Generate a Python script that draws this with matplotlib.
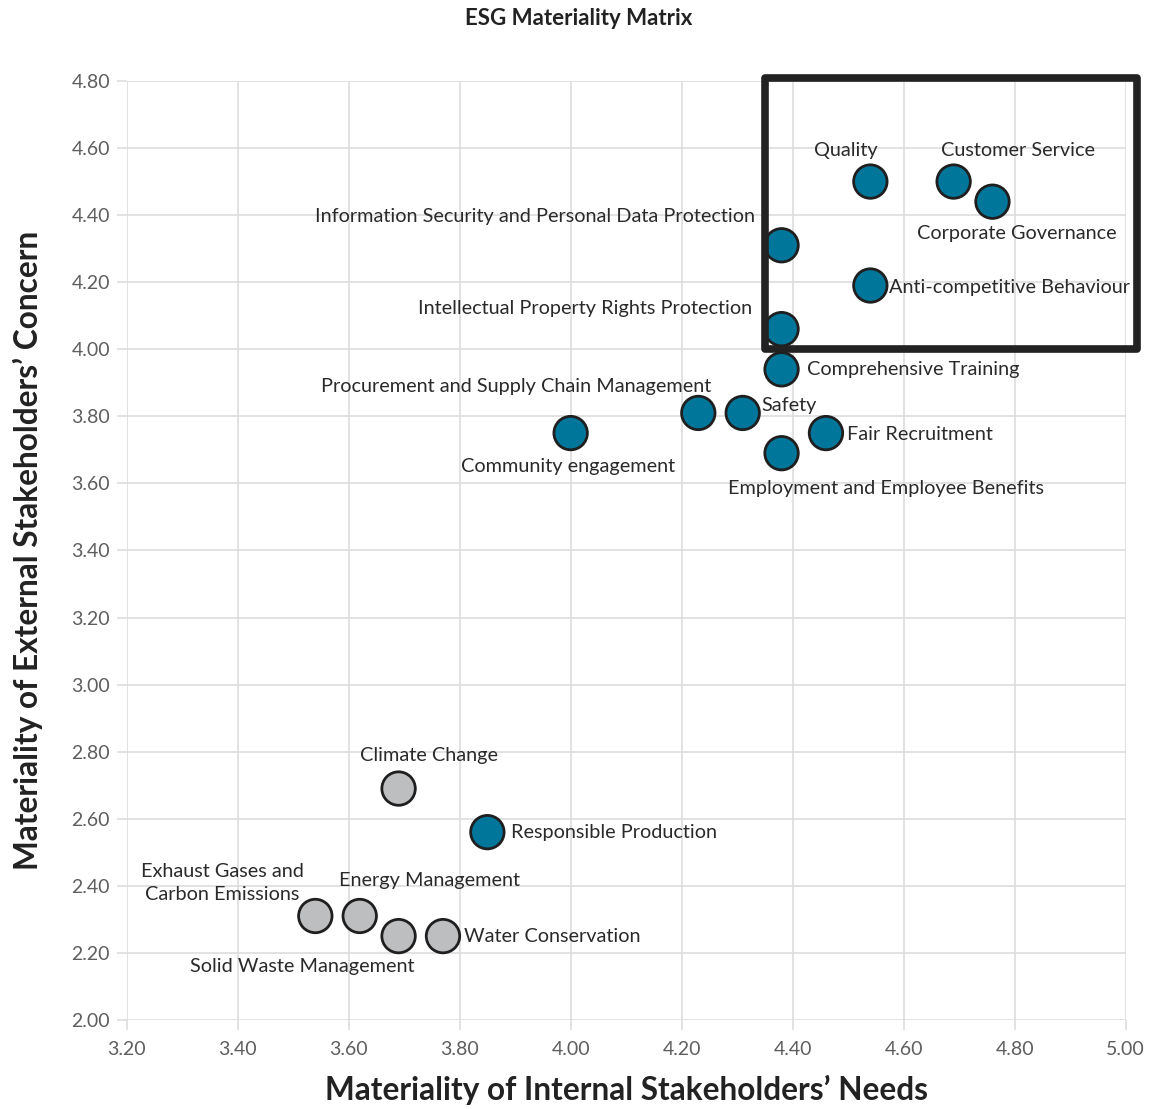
import matplotlib.pyplot as plt
from matplotlib.patches import Rectangle

plt.rcParams['font.family'] = ['Lato', 'DejaVu Sans']

# ESG topics
topics = ['Quality', 'Customer Service', 'Corporate Governance',
          'Information Security and Personal Data Protection',
          'Anti-competitive Behaviour', 'Intellectual Property Rights Protection',
          'Comprehensive Training', 'Procurement and Supply Chain Management',
          'Safety', 'Community engagement', 'Fair Recruitment',
          'Employment and Employee Benefits', 'Climate Change',
          'Responsible Production', 'Exhaust Gases and\nCarbon Emissions',
          'Energy Management', 'Solid Waste Management', 'Water Conservation']
internal = [4.54, 4.69, 4.76, 4.38, 4.54, 4.38, 4.38, 4.23, 4.31, 4.00, 4.46,
            4.38, 3.69, 3.85, 3.54, 3.62, 3.69, 3.77]
external = [4.50, 4.50, 4.44, 4.31, 4.19, 4.06, 3.94, 3.81, 3.81, 3.75, 3.75,
            3.69, 2.69, 2.56, 2.31, 2.31, 2.25, 2.25]
group = ['g', 'g', 'g', 'g', 'g', 'g', 'g', 'g', 'g', 'g', 'g',
         'g', 'e', 'g', 'e', 'e', 'e', 'e']

xticks = [3.2, 3.4, 3.6, 3.8, 4.0, 4.2, 4.4, 4.6, 4.8, 5.0]
yticks = [2.0, 2.2, 2.4, 2.6, 2.8, 3.0, 3.2, 3.4, 3.6, 3.8, 4.0, 4.2, 4.4, 4.6, 4.8]

# label placement: offset in pixels, horizontal alignment
place = [(-25, 31, 'center'), (64, 31, 'center'), (24, -32, 'center'),
         (-27, 29, 'right'), (19, -2, 'left'), (-29, 21, 'right'),
         (25, 0, 'left'), (13, 26, 'right'), (19, 7, 'left'),
         (-3, -33, 'center'), (21, -1, 'left'), (-54, -35, 'left'),
         (30, 33, 'center'), (24, 0, 'left'), (-93, 33, 'center'),
         (70, 35, 'center'), (-96, -30, 'center'), (21, 0, 'left')]

colors = {'g': '#00779A', 'e': '#BDBEC0'}

fig = plt.figure(figsize=(11.51, 11.09), dpi=100)
ax = fig.add_axes([0.110, 0.0803, 0.868, 0.8467])

ax.scatter(internal, external, s=580, c=[colors[g] for g in group],
           edgecolors='#1f1f1f', linewidths=2, zorder=3, clip_on=False)

for t, x, y, (dx, dy, ha) in zip(topics, internal, external, place):
    ax.annotate(t, (x, y), xytext=(dx, dy), textcoords='offset pixels',
                ha=ha, va='center', fontsize=14.3, color='#2a2a2a',
                linespacing=1.45, zorder=4)

ax.add_patch(Rectangle((4.35, 4.0), 0.67, 0.81, fill=False, edgecolor='#222222',
                       linewidth=5.5, clip_on=False, zorder=5, joinstyle='round'))

ax.set_xlim(3.2, 5.0)
ax.set_ylim(2.0, 4.8)
ax.set_xticks(xticks)
ax.set_yticks(yticks)
ax.set_xticklabels([f'{v:.2f}' for v in xticks])
ax.set_yticklabels([f'{v:.2f}' for v in yticks])
ax.tick_params(color='#dddddd', labelcolor='#5e5e5e', labelsize=14, length=7,
               width=1.2)
ax.tick_params(axis='x', pad=8)
ax.tick_params(axis='y', pad=5)
ax.grid(True, color='#dddddd', linewidth=1.2)
ax.set_axisbelow(True)
for s in ax.spines.values():
    s.set_visible(False)

ax.set_xlabel('Materiality of Internal Stakeholders\u2019 Needs', fontsize=22.8,
              fontweight='bold', color='#222222', labelpad=12)
ax.set_ylabel('Materiality of External Stakeholders\u2019 Concern', fontsize=22.8,
              fontweight='bold', color='#222222', labelpad=20)
fig.text(0.5025, 0.983, 'ESG Materiality Matrix', ha='center', va='center',
         fontsize=16, fontweight='bold', color='#222222')

fig.savefig('out.png', dpi=100)
